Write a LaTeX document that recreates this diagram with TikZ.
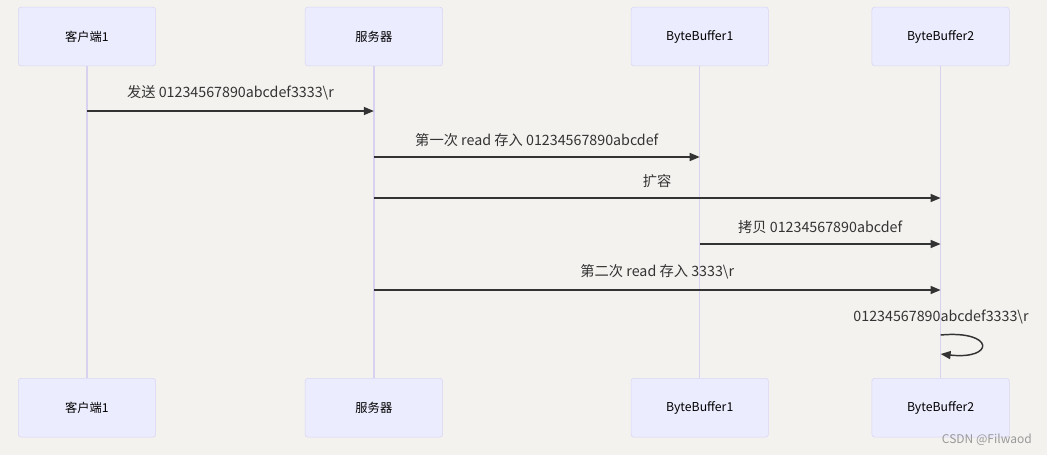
\documentclass[tikz,border=0pt]{standalone}
\usepackage{fontspec}
\setmainfont{Noto Sans CJK SC}
\usetikzlibrary{positioning,arrows.meta}

\definecolor{bgcol}{HTML}{F3F2EF}
\definecolor{actfill}{HTML}{ECECFF}
\definecolor{actdraw}{HTML}{D9D4F2}
\definecolor{lifecol}{HTML}{D8D2F0}
\definecolor{msgcol}{HTML}{333333}

\begin{document}
\begin{tikzpicture}[
    x=0.75pt, y=-0.75pt,
    actor/.style={draw=actdraw, fill=actfill, rounded corners=2pt, rectangle, minimum width=103pt, minimum height=44pt, font=\fontsize{9.2pt}{11pt}\selectfont},
    life/.style={draw=lifecol, line width=1.1pt},
    msg/.style={-{Triangle[length=7.5pt, width=6pt]}, draw=msgcol, line width=1.1pt},
    msglabel/.style={above=7.5pt, font=\fontsize{10.7pt}{12pt}\selectfont, text=msgcol, inner sep=0pt}
]
    \useasboundingbox[fill=bgcol] (0,0) rectangle (1047,455);

    % Actors
    \node[actor] (cli) at (87,36.5) {客户端1};
    \node[actor, right=111.75pt of cli] (srv) {服务器};
    \node[actor, right=141pt of srv] (buf1) {ByteBuffer1};
    \node[actor, right=77.25pt of buf1] (buf2) {ByteBuffer2};
    \node[actor, below=234pt of cli] (clib) {客户端1};
    \node[actor, below=234pt of srv] (srvb) {服务器};
    \node[actor, below=234pt of buf1] (buf1b) {ByteBuffer1};
    \node[actor, below=234pt of buf2] (buf2b) {ByteBuffer2};

    % Lifelines
    \draw[life] (cli) -- (clib);
    \draw[life] (srv) -- (srvb);
    \draw[life] (buf1) -- (buf1b);
    \draw[life] (buf2) -- (buf2b);

    % Messages
    \draw[msg] (cli.south |- 0,111) -- node[msglabel] {发送 01234567890abcdef3333\textbackslash r} (srv.south |- 0,111);
    \draw[msg] (srv.south |- 0,157) -- node[msglabel] {第一次 read 存入 01234567890abcdef} (buf1.south |- 0,157);
    \draw[msg] (srv.south |- 0,198) -- node[msglabel] {扩容} (buf2.south |- 0,198);
    \draw[msg] (buf1.south |- 0,244) -- node[msglabel] {拷贝 01234567890abcdef} (buf2.south |- 0,244);
    \draw[msg] (srv.south |- 0,290) -- node[msglabel] {第二次 read 存入 3333\textbackslash r} (buf2.south |- 0,290);

    % Self message
    \coordinate (loopa) at (buf2.south |- 0,335);
    \coordinate (loopb) at (buf2.south |- 0,354);
    \node[font=\fontsize{10.7pt}{12pt}\selectfont, text=msgcol, inner sep=0pt] (looplabel) at (941,317) {01234567890abcdef3333\textbackslash r};
    \draw[msg] (loopa) .. controls (995,330) and (995,360) .. (loopb);

    % Watermark
    \node[font=\fontsize{9pt}{10pt}\selectfont, text=black!40, anchor=east, inner sep=0pt] (mark) at (1032,440) {CSDN @Filwaod};
\end{tikzpicture}
\end{document}
